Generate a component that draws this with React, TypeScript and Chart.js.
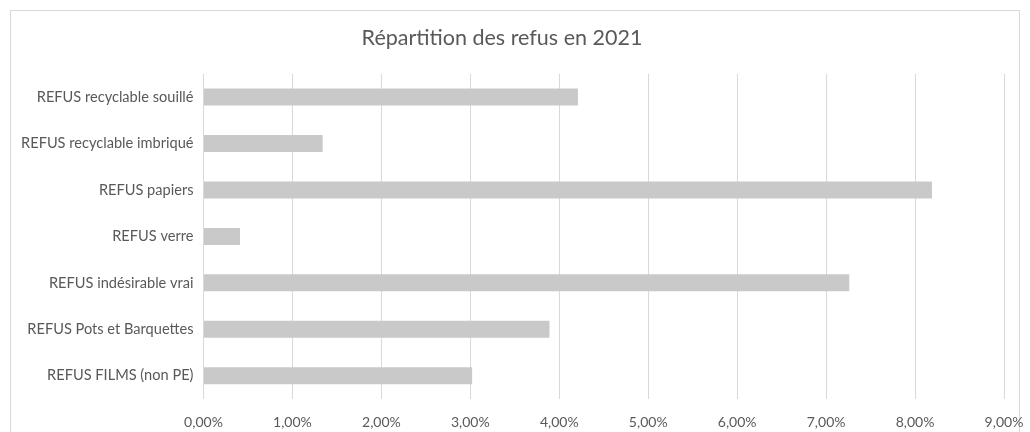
import React, { useEffect, useRef } from "react";
import { Chart, registerables } from "chart.js";

Chart.register(...registerables);

const categories: string[] = [
  "REFUS recyclable souillé",
  "REFUS recyclable imbriqué",
  "REFUS papiers",
  "REFUS verre",
  "REFUS indésirable vrai",
  "REFUS Pots et Barquettes",
  "REFUS FILMS (non PE)",
];

const values: number[] = [4.21, 1.34, 8.19, 0.41, 7.26, 3.89, 3.02];

const chartTitle = "Répartition des refus en 2021";
const xMax = 9;
const xStep = 1;

const fontFamily = "Lato, 'Open Sans', sans-serif";
const textColor = "#595959";
const gridColor = "#d9d9d9";
const barColor = "#c9c9c9";

export default function App() {
  const canvasRef = useRef<HTMLCanvasElement | null>(null);

  useEffect(() => {
    if (!canvasRef.current) return;
    const chart = new Chart(canvasRef.current, {
      type: "bar",
      data: {
        labels: categories,
        datasets: [
          {
            data: values,
            backgroundColor: barColor,
            borderWidth: 0,
            categoryPercentage: 1,
            barPercentage: 0.366,
          },
        ],
      },
      options: {
        indexAxis: "y",
        animation: false,
        responsive: false,
        maintainAspectRatio: false,
        layout: { padding: { top: 0, left: 0, right: 26, bottom: -13 } },
        plugins: {
          legend: { display: false },
          tooltip: { enabled: false },
          title: {
            display: true,
            text: chartTitle,
            color: textColor,
            font: { family: fontFamily, size: 21.5, weight: "normal" },
            padding: { top: 25, bottom: 23 },
          },
        },
        scales: {
          x: {
            min: 0,
            max: xMax,
            ticks: {
              stepSize: xStep,
              color: textColor,
              font: { family: fontFamily, size: 14 },
              padding: 14.6,
              maxRotation: 0,
              callback: (v: any) => Number(v).toFixed(2).replace(".", ",") + "%",
            },
            grid: { color: gridColor, lineWidth: 1, drawTicks: false },
            border: { display: false },
            afterFit: (scale: any) => {
              scale.paddingRight = 0;
              scale.paddingLeft = 0;
            },
          },
          y: {
            ticks: {
              color: textColor,
              font: { family: fontFamily, size: 14.6 },
              padding: 10,
            },
            grid: { display: false, drawTicks: false },
            border: { display: false },
            afterFit: (scale: any) => {
              scale.width = 203.5;
            },
          },
        },
      },
    });
    return () => chart.destroy();
  }, []);

  return (
    <div style={{ position: "absolute", left: 0, top: 0, width: 1030, height: 432, overflow: "hidden", background: "#fff" }}>
      <div
        style={{
          position: "absolute",
          left: 10,
          top: 10,
          width: 1010,
          height: 440,
          border: `1px solid ${gridColor}`,
          boxSizing: "border-box",
        }}
      />
      <canvas ref={canvasRef} width={1030} height={432} style={{ position: "absolute", left: 0, top: 0 }} />
    </div>
  );
}
